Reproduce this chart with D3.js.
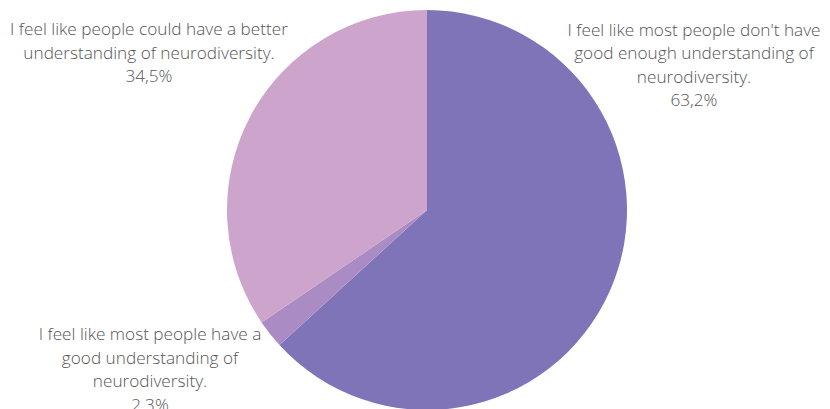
<!DOCTYPE html>
<html>
<head>
<meta charset="utf-8">
<script src="https://cdn.jsdelivr.net/npm/d3@7"></script>
<style>
  html, body { margin: 0; padding: 0; background: #fff; }
  svg { display: block; }
</style>
</head>
<body>
<svg id="chart" width="830" height="409"></svg>
<script>
// Survey answers, in clockwise order from 12 o'clock
const categories = [
  "I feel like most people don't have good enough understanding of neurodiversity.",
  "I feel like most people have a good understanding of neurodiversity.",
  "I feel like people could have a better understanding of neurodiversity."
];
const values = [63.2, 2.3, 34.5];
const valueLabels = ["63,2%", "2.3%", "34,5%"];
const labelLines = [
  ["I feel like most people don't have", "good enough understanding of", "neurodiversity."],
  ["I feel like most people have a", "good understanding of", "neurodiversity."],
  ["I feel like people could have a better", "understanding of neurodiversity."]
];
const colors = ["#7f74b8", "#ab8bc4", "#cda4cc"];

const svg = d3.select("#chart");
const cx = 427, cy = 210, r = 200;

const pie = d3.pie().sort(null).value(d => d)(values);
const arc = d3.arc().innerRadius(0).outerRadius(r);

svg.append("g")
  .attr("transform", `translate(${cx},${cy})`)
  .selectAll("path")
  .data(pie)
  .join("path")
  .attr("d", arc)
  .attr("fill", (d, i) => colors[i]);

// Label blocks: centre x and first baseline for each slice
const labelPos = [
  { x: 694, y: 35.5 },
  { x: 150, y: 340 },
  { x: 149, y: 35 }
];
const lineH = 23.6;

const labels = svg.append("g")
  .attr("font-family", "'Open Sans', sans-serif")
  .attr("font-size", 17.2)
  .attr("font-weight", 300)
  .attr("fill", "#555")
  .attr("text-anchor", "middle");

categories.forEach((c, i) => {
  const lines = labelLines[i].concat([valueLabels[i]]);
  const t = labels.append("text")
    .attr("x", labelPos[i].x)
    .attr("y", labelPos[i].y);
  lines.forEach((ln, j) => {
    t.append("tspan")
      .attr("x", labelPos[i].x)
      .attr("y", labelPos[i].y + j * lineH)
      .text(ln);
  });
});
</script>
</body>
</html>
